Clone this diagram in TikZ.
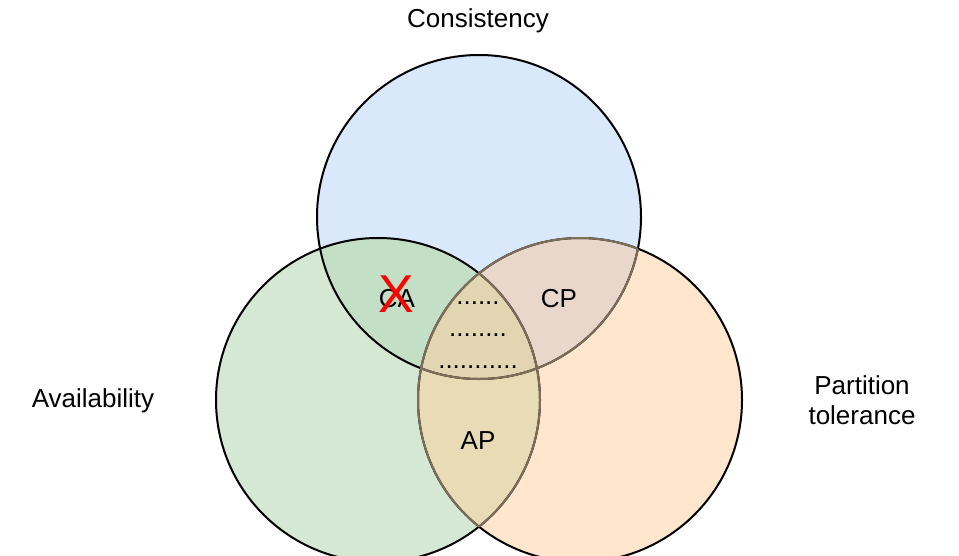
\documentclass[tikz,border=0pt]{standalone}
\usepackage{fontspec}
\setmainfont{Liberation Sans}
\usepackage{tikz}
\usetikzlibrary{positioning}
\definecolor{cblue}{HTML}{DAE8FC}
\definecolor{cgreen}{HTML}{D5E8D4}
\definecolor{corange}{HTML}{FFE6CC}
\definecolor{regca}{HTML}{C3DFC6}
\definecolor{regcp}{HTML}{E8D7CA}
\definecolor{regap}{HTML}{E8DBB5}
\definecolor{regmid}{HTML}{E1D5B2}
\definecolor{rimbrown}{HTML}{7D6E5A}
\def\rr{121.5pt}

\begin{document}
\begin{tikzpicture}[x=0.75pt, y=-0.75pt, every node/.style={font=\fontsize{19.5}{22.5}\selectfont}, rim/.style={line width=1.5pt}, innerrim/.style={rim,draw=rimbrown}, cross/.style={text=red,font=\fontsize{40}{40}\selectfont}]
\useasboundingbox (0,0) rectangle (959,556);
\coordinate (c) at (479,217);
\coordinate (a) at (378,400);
\coordinate (p) at (580,400);
% set fills
\fill[cblue] (c) circle[radius=\rr];
\fill[cgreen] (a) circle[radius=\rr];
\fill[corange] (p) circle[radius=\rr];
\begin{scope}
\clip (c) circle[radius=\rr];
\fill[regca] (a) circle[radius=\rr];
\fill[regcp] (p) circle[radius=\rr];
\end{scope}
\begin{scope}
\clip (a) circle[radius=\rr];
\fill[regap] (p) circle[radius=\rr];
\clip (c) circle[radius=\rr];
\fill[regmid] (p) circle[radius=\rr];
\end{scope}
% outlines
\draw[rim] (c) circle[radius=\rr]; \draw[rim] (a) circle[radius=\rr]; \draw[rim] (p) circle[radius=\rr];
\begin{scope}
\clip (p) circle[radius=\rr];
\draw[innerrim] (c) circle[radius=\rr]; \draw[innerrim] (a) circle[radius=\rr];
\end{scope}
\begin{scope}
\clip (c) circle[radius=\rr];
\draw[innerrim] (p) circle[radius=\rr];
\end{scope}
\begin{scope}
\clip (a) circle[radius=\rr];
\draw[innerrim] (p) circle[radius=\rr];
\end{scope}
% labels
\node (cons) at (478,21) {Consistency};
\node (avail) at (93,401) {Availability};
\node[align=center] (part) at (862,400) {Partition\\tolerance};
\node (ca) at (397,299) {CA};
\node (cp) at (559,299) {CP};
\node (ap) at (478,441) {AP};
\node (dots1) at (478,303) {......};
\node (dots2) at (478,335) {........};
\node (dots3) at (478,367) {...........};
\node[cross] (ban) at (396,294) {X};
\end{tikzpicture}
\end{document}
